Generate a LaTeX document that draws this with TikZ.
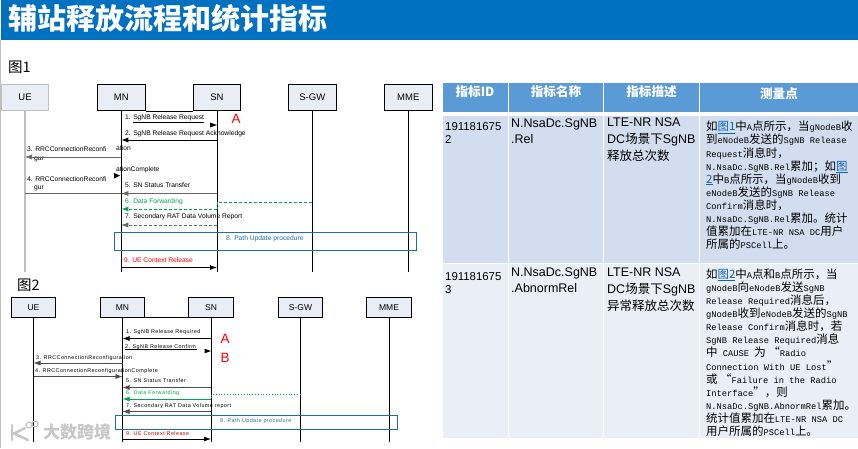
\documentclass[tikz,border=0pt]{standalone}
\usepackage{fontspec}
\usetikzlibrary{arrows.meta}
\setmainfont{Liberation Sans}
\setmonofont{Liberation Mono}
\newfontfamily\cjk{Noto Sans CJK SC}
\newfontfamily\cjkm[Scale=1.31]{Noto Sans CJK SC}
\newfontfamily\widefont[LetterSpace=8]{Liberation Sans}
\newcommand\zh[1]{{\cjk #1}}
\newcommand\zm[1]{{\cjkm #1}}
\newcommand\lnk[1]{\textcolor{linkblue}{\underline{#1}}}
\definecolor{bar}{HTML}{0070C0}
\definecolor{hdr}{HTML}{5B9BD5}
\definecolor{rowa}{HTML}{D2DEEF}
\definecolor{rowb}{HTML}{EAEFF7}
\definecolor{boxfill}{HTML}{E9EDF6}
\definecolor{linkblue}{HTML}{0563C1}
\definecolor{fgreen}{HTML}{00A650}
\definecolor{pathblue}{HTML}{1F6EA8}
\tikzset{
  x=1pt,y=-1pt,
  ent/.style={draw=black,line width=0.9pt,fill=boxfill,minimum height=26.5pt,minimum width=47.5pt,inner sep=0,font=\fontsize{9.5}{11}\selectfont},
  entb/.style={ent,minimum height=20pt,minimum width=44.5pt,font=\fontsize{8.5}{10}\selectfont},
  life/.style={draw=black,line width=0.7pt},
  tipend/.style={-{Latex[length=7pt,width=5pt]}},
  msg/.style={draw=black,line width=0.8pt,tipend},
  gmsg/.style={draw=black!60,line width=0.7pt},
  gr/.style={draw=fgreen,line width=0.8pt,densely dashed},
  lab/.style={anchor=west,inner sep=0,font=\fontsize{6.7}{8}\selectfont},
  labb/.style={anchor=west,inner sep=0,font=\fontsize{5.4}{6}\selectfont\widefont},
  big/.style={inner sep=0,text=red,font=\fontsize{13.5}{15}\selectfont},
  fig/.style={anchor=west,inner sep=0,font=\fontsize{14.5}{16}\selectfont\cjk},
  path/.style={draw=pathblue,line width=0.8pt},
  cell/.style={anchor=north west,inner sep=0,align=left},
  head/.style={inner sep=0,text=white,font=\fontsize{12.6}{15}\selectfont\cjk\bfseries},
  sans/.style={cell,font=\fontsize{12.5}{16}\selectfont},
  sansc/.style={cell,font=\fontsize{12.5}{17}\selectfont},
  idc/.style={cell,font=\fontsize{11.4}{13.5}\selectfont},
  meas/.style={cell,font=\fontsize{8.75}{13.1}\selectfont\ttfamily},
  wm/.style={draw=black!22,line width=2.6pt,line cap=round},
}
\begin{document}
\begin{tikzpicture}
\useasboundingbox (0,0) rectangle (858,448);
\fill[white] (0,0) rectangle (858,448);
\fill[black!25] (0,40) rectangle (1,448);
\fill[bar] (1,0) rectangle (858,40);
\node[anchor=west,inner sep=0,text=white,font=\fontsize{29}{30}\selectfont\cjk\bfseries] (title) at (8,18) {辅站释放流程和统计指标};
\node[fig] (figa) at (8,67) {图1};
\node[fig] (figb) at (17,285) {图2};

% Figure 1
\node[ent,draw=black!25,line width=1.3pt] (ue) at (25,97.5) {UE};
\node[ent] (mn) at (121.3,97.5) {MN};
\node[ent] (sn) at (217,97.5) {SN};
\node[ent] (sgw) at (312.3,97.5) {S-GW};
\node[ent] (mme) at (408.3,97.5) {MME};
\coordinate (end) at (0,272);
\draw[draw=black!25,line width=1.2pt] (ue.south) -- (ue |- end);
\draw[life] (mn.south) -- (mn |- end);
\draw[life] (sn.south) -- (sn |- end);
\draw[life] (sgw.south) -- (sgw |- end);
\draw[life] (mme.south) -- (mme |- end);
\draw[life] (mn.south east) -- (sn.south west);

\node[lab] (m1) at (125,119) {1. \underline{SgNB Release Request}};
\fill[black] (217,125) -- (210,122.5) -- (210,127.5) -- cycle;
\node[big] (ptA) at (236,119) {A};
\node[lab] (m2) at (125,134) {2. SgNB Release Request Acknowledge};
\draw[msg] (sn |- 0,140) -- (mn |- 0,140);
\node[lab] (m3) at (27,149) {3. RRCConnectionReconfi};
\node[lab] (m3b) at (116,148.5) {ation};
\node[lab] (m3c) at (34,159.5) {gur};
\draw[gmsg,tipend] (mn |- 0,157) -- (ue |- 0,157);
\node[lab] (m4x) at (116,170) {ationComplete};
\node[lab] (m4) at (27,179) {4. RRCConnectionReconfi};
\node[lab] (m4c) at (34,188.5) {gur};
\fill[black] (120,175.5) -- (114,173) -- (114,178.5) -- cycle;
\draw[gmsg] (ue |- 0,193.5) -- (mn |- 0,193.5);
\node[lab] (m5) at (125,185) {5. SN Status Transfer};
\draw[gmsg,tipend] (sn |- 0,193.5) -- (mn |- 0,193.5);
\node[lab,text=fgreen] (m6) at (125,202) {6. Data Forwarding};
\draw[gr,line width=1pt,tipend] (sn |- 0,209) -- (mn |- 0,209);
\draw[gr] (sgw |- 0,202) -- (sn |- 0,202) -- (sn |- 0,209);
\node[lab] (m7) at (125,217) {7. Secondary RAT Data Volume Report};
\draw[gmsg,densely dashed,tipend] (sn |- 0,225) -- (mn |- 0,225);
\draw[path] (114.5,232.5) rectangle (416.5,250);
\node[lab,text=pathblue] (m8) at (226,239) {8. Path Update procedure};
\node[lab,text=red] (m9) at (124,260) {9. UE Context Release};
\draw[msg] (mn |- 0,267.5) -- (sn |- 0,267.5);

% Figure 2
\node[entb] (ueb) at (33.5,307.3) {UE};
\node[entb] (mnb) at (122.5,307.3) {MN};
\node[entb] (snb) at (211,307.3) {SN};
\node[entb] (sgwb) at (300.5,307.3) {S-GW};
\node[entb] (mmeb) at (389,307.3) {MME};
\coordinate (endb) at (0,442);
\draw[life] (ueb.south) -- (ueb |- endb);
\draw[life] (mnb.south) -- (mnb |- endb);
\draw[life] (snb.south) -- (snb |- endb);
\draw[life] (sgwb.south) -- (sgwb |- endb);
\draw[life] (mmeb.south) -- (mmeb |- endb);
\draw[life] (mnb.south east) -- (snb.south west);

\node[labb] (n1) at (126,332) {1. SgNB Release Required};
\draw[msg] (snb |- 0,338.5) -- (mnb |- 0,338.5);
\node[labb] (n2) at (125,347) {2. SgNB Release Confirm};
\draw[line width=0.8pt] (125,349.6) -- (197,349.6);
\fill[black] (211,351) -- (204.5,348.7) -- (204.5,353.3) -- cycle;
\node[big] (ptAb) at (225,339) {A};
\node[big] (ptBb) at (225,358) {B};
\node[labb] (n3) at (36,358.5) {3. RRCConnectionReconfiguration};
\draw[gmsg,draw=black!70,tipend] (mnb |- 0,363) -- (ueb |- 0,363);
\node[labb] (n4) at (35,371) {4. RRCConnectionReconfigurationComplete};
\draw[gmsg,draw=black!70,tipend] (ueb |- 0,376.5) -- (mnb |- 0,376.5);
\node[labb] (n5) at (126,381) {5. SN Status Transfer};
\draw[gmsg,draw=black!70,tipend] (snb |- 0,387.5) -- (mnb |- 0,387.5);
\node[labb,text=fgreen] (n6) at (126,393) {6. Data Forwarding};
\draw[draw=fgreen,line width=1pt,tipend] (snb |- 0,399) -- (mnb |- 0,399);
\draw[gr,dotted] (sgwb |- 0,394.5) -- (snb |- 0,394.5) -- (snb |- 0,399);
\node[labb] (n7) at (126,406) {7. Secondary RAT Data Volume report};
\draw[gmsg,draw=black!70,tipend] (snb |- 0,411.5) -- (mnb |- 0,411.5);
\draw[path] (115.5,415) rectangle (397.5,429);
\node[labb,text=pathblue] (n8) at (220,421) {8. Path Update procedure};
\node[labb,text=red!80!black] (n9) at (126,434) {9. UE Context Release};
\draw[msg] (mnb |- 0,439) -- (snb |- 0,439);

% Watermark
\draw[wm] (12,425) -- (12,440);
\draw[wm] (25,428) -- (14,433.5) -- (28,440);
\draw[draw=black!22,line width=1.2pt] (29,425) circle (3);
\draw[draw=black!22,line width=1.2pt] (35,424) circle (3);
\node[anchor=west,inner sep=0,text=black!22,font=\fontsize{17}{18}\selectfont\cjk\bfseries] (wmark) at (43,432.5) {大数跨境};

% Table
\fill[hdr] (442.5,83) rectangle (508,112);
\fill[hdr] (509,83) rectangle (603,112);
\fill[hdr] (604,83) rectangle (699,112);
\fill[hdr] (700,83) rectangle (858,112);
\fill[rowa] (442.5,115.5) rectangle (508,262.7);
\fill[rowa] (509,115.5) rectangle (603,262.7);
\fill[rowa] (604,115.5) rectangle (699,262.7);
\fill[rowa] (700,115.5) rectangle (858,262.7);
\fill[rowb] (442.5,264) rectangle (508,438);
\fill[rowb] (509,264) rectangle (603,438);
\fill[rowb] (604,264) rectangle (699,438);
\fill[rowb] (700,264) rectangle (858,438);
\node[head] (h1) at (475,91.5) {指标ID};
\node[head] (h2) at (556,91.5) {指标名称};
\node[head] (h3) at (651.5,91.5) {指标描述};
\node[head] (h4) at (779,94) {测量点};

\node[idc] (a1) at (445,122) {191181675\\2};
\node[sans] (a2) at (511,118.5) {N.NsaDc.SgNB\\.Rel};
\node[sansc] (a3) at (607,118) {LTE-NR NSA\\DC\zh{场景下}SgNB\\\zh{释放总次数}};
\node[meas] (a4) at (706,121) {\zm{如\lnk{图1}中}A\zm{点所示，当}gNodeB\zm{收}\\\zm{到}eNodeB\zm{发送的}SgNB Release\\Request\zm{消息时，}\\N.NsaDc.SgNB.Rel\zm{累加；如\lnk{图}}\\\zm{\lnk{2}中}B\zm{点所示，当}gNodeB\zm{收到}\\eNodeB\zm{发送的}SgNB Release\\Confirm\zm{消息时，}\\N.NsaDc.SgNB.Rel\zm{累加。统计}\\\zm{值累加在}LTE-NR NSA DC\zm{用户}\\\zm{所属的}PSCell\zm{上。}};
\node[idc] (b1) at (445,272) {191181675\\3};
\node[sans] (b2) at (511,268) {N.NsaDc.SgNB\\.AbnormRel};
\node[sansc] (b3) at (607,268) {LTE-NR NSA\\DC\zh{场景下}SgNB\\\zh{异常释放总次数}};
\node[meas] (b4) at (706,268.5) {\zm{如\lnk{图2}中}A\zm{点和}B\zm{点所示，当}\\gNodeB\zm{向}eNodeB\zm{发送}SgNB\\Release Required\zm{消息后，}\\gNodeB\zm{收到}eNodeB\zm{发送的}SgNB\\Release Confirm\zm{消息时，若}\\SgNB Release Required\zm{消息}\\\zm{中} CAUSE \zm{为 “}Radio\\Connection With UE Lost\zm{”}\\\zm{或 “}Failure in the Radio\\Interface\zm{”，则}\\N.NsaDc.SgNB.AbnormRel\zm{累加。}\\\zm{统计值累加在}LTE-NR NSA DC\\\zm{用户所属的}PSCell\zm{上。}};
\end{tikzpicture}
\end{document}
